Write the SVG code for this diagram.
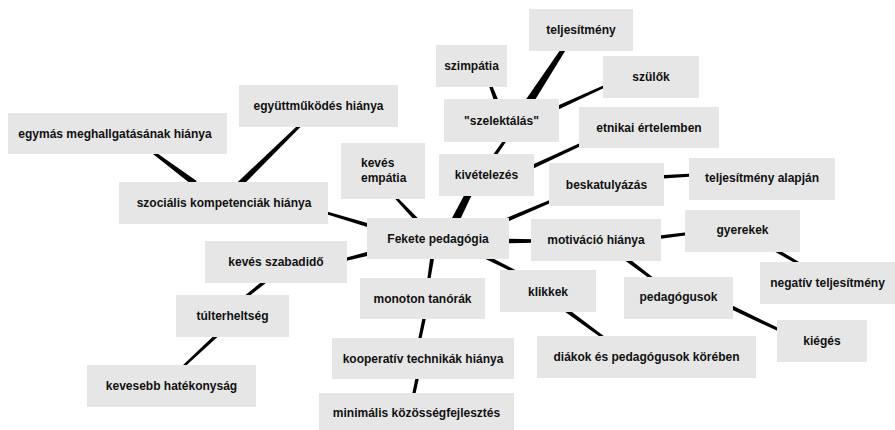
<svg xmlns="http://www.w3.org/2000/svg" width="895" height="430" viewBox="0 0 895 430">
<style>
.box{fill:#e6e6e6}
.t{font-family:"Liberation Sans",Arial,sans-serif;font-weight:bold;font-size:12px;fill:#111;text-anchor:middle}
.tl{font-family:"Liberation Sans",Arial,sans-serif;font-weight:bold;font-size:12px;fill:#111}
.c{fill:#000}
</style>
<rect width="895" height="430" fill="#fff"/>
<g id="connectors">
<polygon class="c" points="371.6,224.3 323.4,210.6 322.6,213.0 370.4,228.1"/>
<polygon class="c" points="419.2,219.5 396.2,196.2 394.4,198.0 416.2,222.3"/>
<polygon class="c" points="458.3,223.4 472.2,193.9 466.4,191.0 451.1,219.8"/>
<polygon class="c" points="506.1,222.4 553.3,201.8 552.1,199.0 504.5,218.8"/>
<polygon class="c" points="505,238.75 535,239.25 535,242.75 505,243.25"/>
<polygon class="c" points="370.4,251.1 342.7,258.5 343.5,261.5 371.4,254.9"/>
<polygon class="c" points="430.6,254.7 426.9,281.8 429.9,282.2 434.6,255.3"/>
<polygon class="c" points="485.5,259.0 514.9,273.1 516.3,270.5 487.3,255.4"/>
<polygon class="c" points="423.1,314.7 417.7,341.6 420.7,342.2 426.5,315.5"/>
<polygon class="c" points="416.1,374.7 411.7,396.6 414.7,397.2 419.5,375.5"/>
<polygon class="c" points="494.1,159.3 507.5,139.6 505.1,137.8 491.3,157.3"/>
<polygon class="c" points="531.2,169.5 583.5,144.7 582.3,141.9 529.6,165.9"/>
<polygon class="c" points="499.5,102.9 491.0,82.8 488.2,83.8 495.3,104.5"/>
<polygon class="c" points="532.2,104.6 567.1,47.8 563.3,45.4 525.4,100.2"/>
<polygon class="c" points="556.2,110.5 607.1,86.4 606.1,84.2 554.6,106.9"/>
<polygon class="c" points="196.7,181.0 153.2,150.4 151.4,152.8 193.1,185.8"/>
<polygon class="c" points="242.2,185.9 302.2,125.3 300.2,123.1 238.0,181.7"/>
<polygon class="c" points="265.0,279.1 243.9,296.3 245.8,298.7 267.2,281.9"/>
<polygon class="c" points="216.7,333.0 181.2,366.8 182.9,368.6 219.1,335.6"/>
<polygon class="c" points="660,175.2 693,173.5 693,176.5 660,178.8"/>
<polygon class="c" points="657,235.7 689,232.0 689,235.0 657,239.2"/>
<polygon class="c" points="624.6,260.2 652.3,280.6 654.1,278.2 627.0,257.0"/>
<polygon class="c" points="774.6,251.5 798.7,265.3 800.3,262.7 776.4,248.5"/>
<polygon class="c" points="728.5,308.1 780.0,332.1 781.2,329.3 730.3,304.5"/>
<polygon class="c" points="565.6,312.2 602.3,338.6 604.1,336.2 568.0,309.0"/>
</g>
<g id="n-egymas"><rect class="box" x="8" y="113" width="219" height="41"/><text class="t" x="115" y="137.5">egymás meghallgatásának hiánya</text></g>
<g id="n-egyuttmukodes"><rect class="box" x="239" y="85" width="159" height="42"/><text class="t" x="318.5" y="110">együttműködés hiánya</text></g>
<g id="n-szocialis"><rect class="box" x="119" y="182" width="209" height="42"/><text class="t" x="224" y="207">szociális kompetenciák hiánya</text></g>
<g id="n-keves-empatia"><rect class="box" x="341" y="143" width="84" height="56"/><text class="tl" x="361" y="166.5">kevés</text><text class="tl" x="361" y="182">empátia</text></g>
<g id="n-szimpatia"><rect class="box" x="436" y="45" width="71" height="42"/><text class="t" x="471.5" y="70">szimpátia</text></g>
<g id="n-teljesitmeny"><rect class="box" x="529" y="9" width="104" height="42"/><text class="t" x="581" y="34">teljesítmény</text></g>
<g id="n-szelektalas"><rect class="box" x="444" y="99" width="115" height="43"/><text class="t" x="501.5" y="124.5">"szelektálás"</text></g>
<g id="n-kivetelezes"><rect class="box" x="439" y="154" width="95" height="42"/><text class="t" x="486.5" y="178.5">kivételezés</text></g>
<g id="n-szulok"><rect class="box" x="603" y="56" width="96" height="42"/><text class="t" x="651" y="80.5">szülők</text></g>
<g id="n-etnikai"><rect class="box" x="579" y="107" width="140" height="41"/><text class="t" x="649" y="131.5">etnikai értelemben</text></g>
<g id="n-beskatulyazas"><rect class="box" x="549" y="163" width="115" height="43"/><text class="t" x="606.5" y="188.5">beskatulyázás</text></g>
<g id="n-telj-alapjan"><rect class="box" x="689" y="158" width="146" height="42"/><text class="t" x="762" y="182">teljesítmény alapján</text></g>
<g id="n-fekete"><rect class="box" x="367" y="218" width="142" height="41"/><text class="t" x="438" y="242.5">Fekete pedagógia</text></g>
<g id="n-motivacio"><rect class="box" x="531" y="219" width="130" height="42"/><text class="t" x="596" y="243.5">motiváció hiánya</text></g>
<g id="n-gyerekek"><rect class="box" x="685" y="210" width="115" height="42"/><text class="t" x="742.5" y="233.5">gyerekek</text></g>
<g id="n-negativ"><rect class="box" x="760" y="262" width="135" height="42"/><text class="t" x="827.5" y="287">negatív teljesítmény</text></g>
<g id="n-pedagogusok"><rect class="box" x="624" y="277" width="109" height="42"/><text class="t" x="678.5" y="301">pedagógusok</text></g>
<g id="n-kieges"><rect class="box" x="777" y="320" width="90" height="42"/><text class="t" x="822" y="344.5">kiégés</text></g>
<g id="n-klikkek"><rect class="box" x="500" y="270" width="96" height="42"/><text class="t" x="548" y="295.5">klikkek</text></g>
<g id="n-diakok"><rect class="box" x="537" y="336" width="219" height="42"/><text class="t" x="646.5" y="361">diákok és pedagógusok körében</text></g>
<g id="n-monoton"><rect class="box" x="360" y="278" width="125" height="41"/><text class="t" x="422.5" y="302.5">monoton tanórák</text></g>
<g id="n-kooperativ"><rect class="box" x="332" y="338" width="182" height="41"/><text class="t" x="423" y="362.5">kooperatív technikák hiánya</text></g>
<g id="n-minimalis"><rect class="box" x="319" y="393" width="195" height="41"/><text class="t" x="416.5" y="417">minimális közösségfejlesztés</text></g>
<g id="n-keves-szabadido"><rect class="box" x="205" y="241" width="142" height="42"/><text class="t" x="276" y="266">kevés szabadidő</text></g>
<g id="n-tulterheltseg"><rect class="box" x="176" y="295" width="113" height="42"/><text class="t" x="232.5" y="320">túlterheltség</text></g>
<g id="n-kevesebb"><rect class="box" x="87" y="365" width="169" height="42"/><text class="t" x="171.5" y="390">kevesebb hatékonyság</text></g>
</svg>
